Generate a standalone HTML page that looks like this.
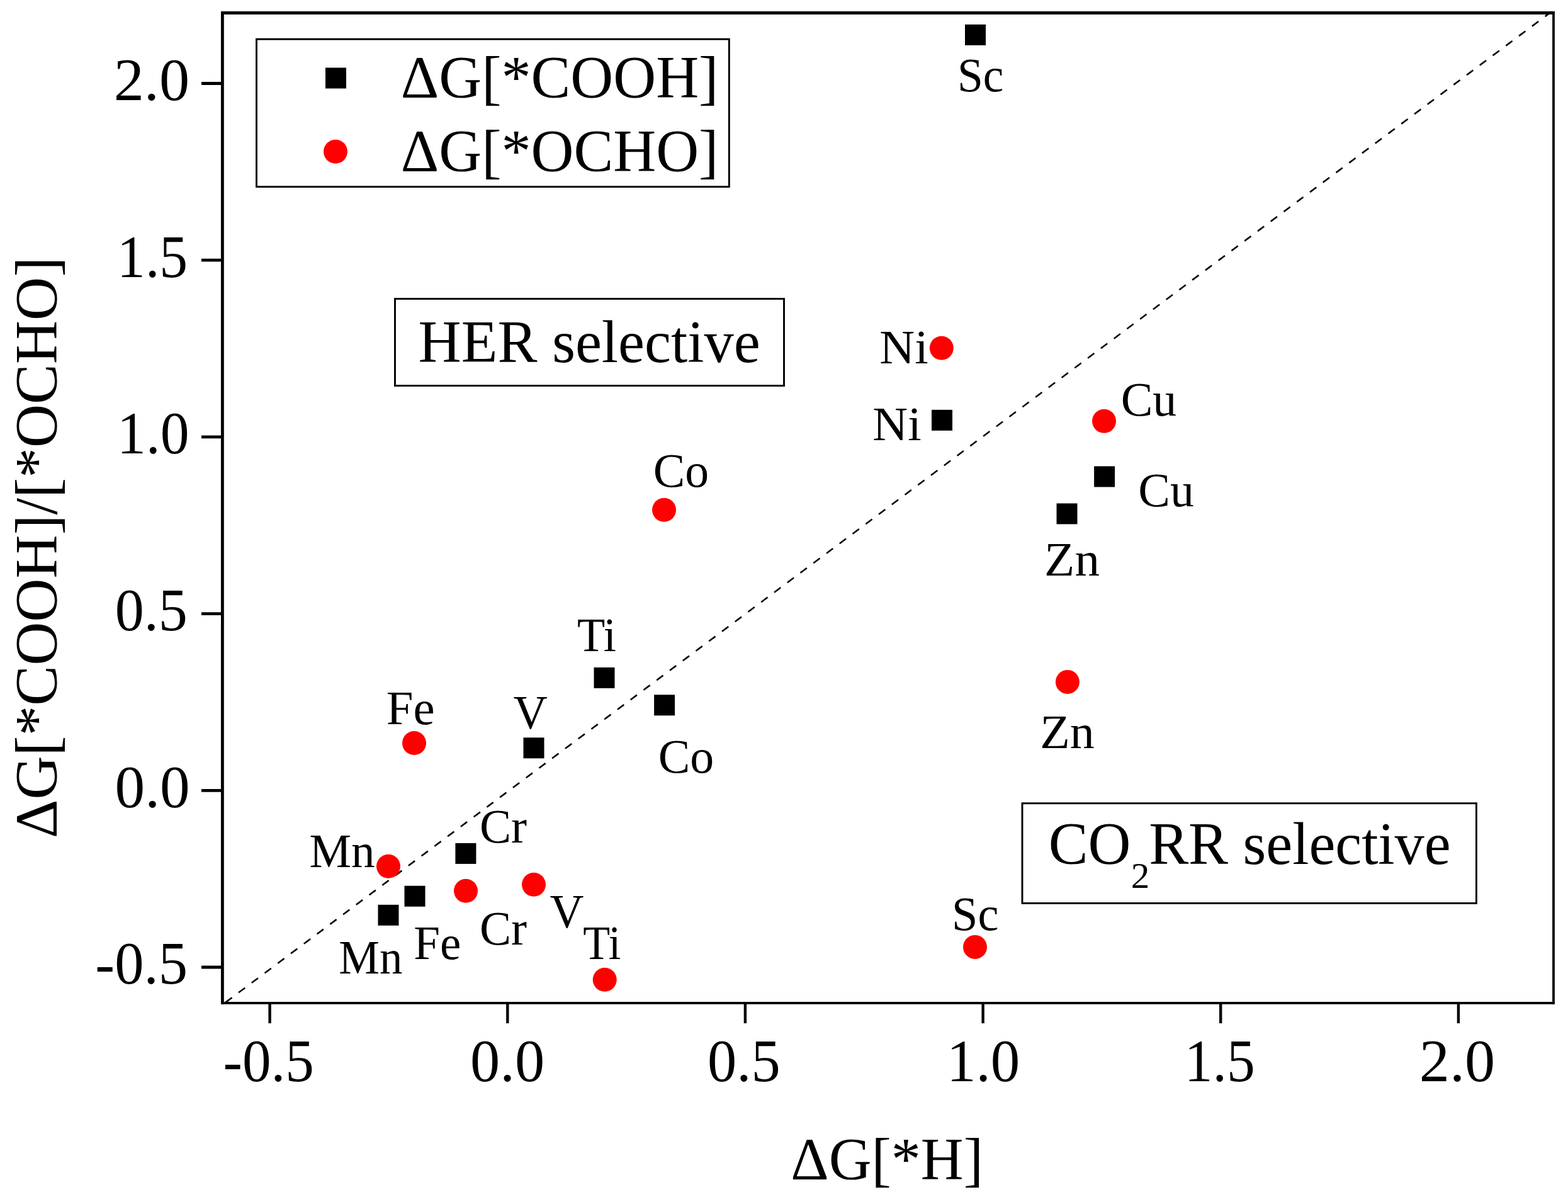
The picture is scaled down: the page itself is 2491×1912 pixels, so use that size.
<!DOCTYPE html><html><head><meta charset="utf-8"><title>plot</title><style>html,body{margin:0;padding:0;background:#fff;overflow:hidden}svg{display:block}text{font-family:"Liberation Serif","Times New Roman",serif;fill:#000}</style></head><body>
<svg width="2491" height="1912" viewBox="0 0 2491 1912">
<rect x="0" y="0" width="2491" height="1912" fill="#fff"/>
<line x1="353.5" y1="1595.4" x2="2468" y2="16.1" stroke="#000" stroke-width="2.6" stroke-dasharray="12.8 13.106" stroke-dashoffset="19.946"/>
<line x1="353.4" y1="17.9" x2="353.4" y2="1594.8" stroke="#000" stroke-width="4.8"/>
<line x1="2468" y1="17.9" x2="2468" y2="1594.8" stroke="#000" stroke-width="3.8"/>
<line x1="351" y1="20.45" x2="2469.9" y2="20.45" stroke="#000" stroke-width="5"/>
<line x1="351" y1="1592.9" x2="2469.9" y2="1592.9" stroke="#000" stroke-width="3.8"/>
<line x1="320" y1="1536.0" x2="353.5" y2="1536.0" stroke="#000" stroke-width="4.8"/>
<line x1="428.6" y1="1593.0" x2="428.6" y2="1625" stroke="#000" stroke-width="4.4"/>
<line x1="320" y1="1255.3" x2="353.5" y2="1255.3" stroke="#000" stroke-width="4.8"/>
<line x1="806.3" y1="1593.0" x2="806.3" y2="1625" stroke="#000" stroke-width="4.4"/>
<line x1="320" y1="974.6" x2="353.5" y2="974.6" stroke="#000" stroke-width="4.8"/>
<line x1="1183.9" y1="1593.0" x2="1183.9" y2="1625" stroke="#000" stroke-width="4.4"/>
<line x1="320" y1="693.9" x2="353.5" y2="693.9" stroke="#000" stroke-width="4.8"/>
<line x1="1561.6" y1="1593.0" x2="1561.6" y2="1625" stroke="#000" stroke-width="4.4"/>
<line x1="320" y1="413.2" x2="353.5" y2="413.2" stroke="#000" stroke-width="4.8"/>
<line x1="1939.2" y1="1593.0" x2="1939.2" y2="1625" stroke="#000" stroke-width="4.4"/>
<line x1="320" y1="132.5" x2="353.5" y2="132.5" stroke="#000" stroke-width="4.8"/>
<line x1="2316.9" y1="1593.0" x2="2316.9" y2="1625" stroke="#000" stroke-width="4.4"/>
<text transform="translate(151.36 1562.30) scale(0.9752 1)" font-size="95">-0.5</text>
<text transform="translate(354.51 1717.20) scale(0.9605 1)" font-size="95">-0.5</text>
<text transform="translate(182.57 1281.60) scale(1.0035 1)" font-size="95">0.0</text>
<text transform="translate(747.10 1717.20) scale(0.9945 1)" font-size="95">0.0</text>
<text transform="translate(182.69 1000.90) scale(0.9702 1)" font-size="95">0.5</text>
<text transform="translate(1124.08 1717.20) scale(0.9729 1)" font-size="95">0.5</text>
<text transform="translate(185.93 720.20) scale(0.9665 1)" font-size="95">1.0</text>
<text transform="translate(1503.93 1717.20) scale(0.9786 1)" font-size="95">1.0</text>
<text transform="translate(186.12 439.50) scale(0.9439 1)" font-size="95">1.5</text>
<text transform="translate(1881.83 1717.20) scale(0.9420 1)" font-size="95">1.5</text>
<text transform="translate(180.67 158.80) scale(1.0139 1)" font-size="95">2.0</text>
<text transform="translate(2254.77 1717.20) scale(1.0130 1)" font-size="95">2.0</text>
<text transform="translate(1256.32 1872.90) scale(0.9889 1)" font-size="95">ΔG[*H]</text>
<text transform="translate(89.7 1331.25) rotate(-90) scale(1.0083 1)" font-size="95">ΔG[*COOH]/[*OCHO]</text>
<rect x="407.5" y="62.2" width="750.8" height="234.4" fill="none" stroke="#000" stroke-width="2.9"/>
<rect x="517" y="107.5" width="33" height="33" fill="#000"/>
<circle cx="533" cy="240.8" r="19" fill="#f00"/>
<text transform="translate(636.82 155.10) scale(0.9902 1)" font-size="95">ΔG[*COOH]</text>
<text transform="translate(636.82 272.00) scale(0.9902 1)" font-size="95">ΔG[*OCHO]</text>
<rect x="627.5" y="474.5" width="618" height="138" fill="none" stroke="#000" stroke-width="2.9"/>
<text transform="translate(664.58 575.20) scale(0.9946 1)" font-size="95">HER selective</text>
<rect x="1624" y="1275.7" width="721.4" height="158.7" fill="none" stroke="#000" stroke-width="2.9"/>
<text transform="translate(1665.74 1372.20) scale(0.9897 1)" font-size="95">CO</text>
<text transform="translate(1796.70 1410.20) scale(1.0372 1)" font-size="57">2</text>
<text transform="translate(1825.18 1372.20) scale(0.9932 1)" font-size="95">RR selective</text>
<rect x="1533.0" y="38.9" width="33" height="33" fill="#000"/>
<rect x="1480.0" y="650.8" width="33" height="33" fill="#000"/>
<rect x="1738.1" y="740.4" width="33" height="33" fill="#000"/>
<rect x="1678.5" y="799.4" width="33" height="33" fill="#000"/>
<rect x="943.5" y="1059.9" width="33" height="33" fill="#000"/>
<rect x="1039.1" y="1103.3" width="33" height="33" fill="#000"/>
<rect x="831.5" y="1171.3" width="33" height="33" fill="#000"/>
<rect x="723.4" y="1338.9" width="33" height="33" fill="#000"/>
<rect x="642.5" y="1406.7" width="33" height="33" fill="#000"/>
<rect x="600.5" y="1436.8" width="33" height="33" fill="#000"/>
<circle cx="1495.8" cy="552.8" r="19" fill="#f00"/>
<circle cx="1754" cy="668.8" r="19" fill="#f00"/>
<circle cx="1055" cy="809.8" r="19" fill="#f00"/>
<circle cx="1695.9" cy="1082.9" r="19" fill="#f00"/>
<circle cx="658" cy="1180" r="19" fill="#f00"/>
<circle cx="617" cy="1375.8" r="19" fill="#f00"/>
<circle cx="740" cy="1414.8" r="19" fill="#f00"/>
<circle cx="848" cy="1404.8" r="19" fill="#f00"/>
<circle cx="960.7" cy="1555.8" r="19" fill="#f00"/>
<circle cx="1549" cy="1503.9" r="19" fill="#f00"/>
<text transform="translate(1520.89 145.00) scale(0.9653 1)" font-size="76">Sc</text>
<text transform="translate(1397.37 577.00) scale(1.0171 1)" font-size="76">Ni</text>
<text transform="translate(1386.27 699.00) scale(1.0185 1)" font-size="76">Ni</text>
<text transform="translate(1780.69 660.30) scale(0.9991 1)" font-size="76">Cu</text>
<text transform="translate(1808.29 804.00) scale(0.9991 1)" font-size="76">Cu</text>
<text transform="translate(1659.12 914.30) scale(1.0397 1)" font-size="76">Zn</text>
<text transform="translate(1652.27 1188.10) scale(1.0247 1)" font-size="76">Zn</text>
<text transform="translate(1037.69 773.00) scale(0.9966 1)" font-size="76">Co</text>
<text transform="translate(916.99 1033.70) scale(0.9534 1)" font-size="76">Ti</text>
<text transform="translate(1045.69 1226.70) scale(0.9978 1)" font-size="76">Co</text>
<text transform="translate(613.79 1149.90) scale(1.0116 1)" font-size="76">Fe</text>
<text transform="translate(815.46 1156.70) scale(0.9891 1)" font-size="76">V</text>
<text transform="translate(491.54 1377.00) scale(0.9850 1)" font-size="76">Mn</text>
<text transform="translate(761.92 1338.00) scale(0.9887 1)" font-size="76">Cr</text>
<text transform="translate(873.46 1472.60) scale(0.9835 1)" font-size="76">V</text>
<text transform="translate(761.92 1499.60) scale(0.9887 1)" font-size="76">Cr</text>
<text transform="translate(926.23 1522.90) scale(0.9240 1)" font-size="76">Ti</text>
<text transform="translate(538.20 1545.90) scale(0.9576 1)" font-size="76">Mn</text>
<text transform="translate(657.14 1522.70) scale(0.9877 1)" font-size="76">Fe</text>
<text transform="translate(1512.03 1477.20) scale(0.9784 1)" font-size="76">Sc</text>
</svg></body></html>
